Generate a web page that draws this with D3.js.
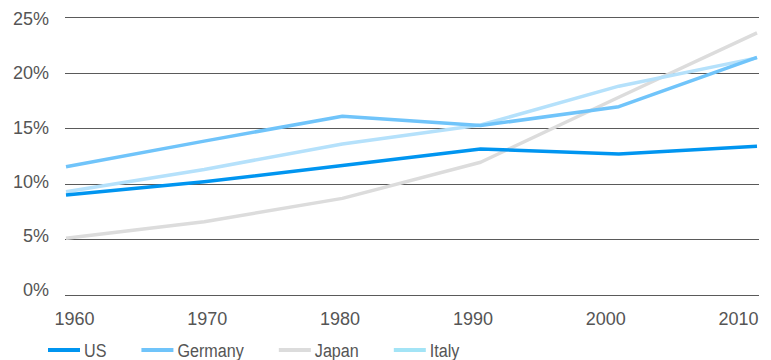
<!DOCTYPE html>
<html>
<head>
<meta charset="utf-8">
<script src="https://cdn.jsdelivr.net/npm/d3@7"></script>
<style>
  html, body { margin: 0; padding: 0; background: #fff; }
  svg { display: block; }
</style>
</head>
<body>
<svg id="chart" width="771" height="360"></svg>
<script>
const years = [1960, 1970, 1980, 1990, 2000, 2010];
const tickLabels = ['1960', '1970', '1980', '1990', '2000', '2010'];
const yTicks = [0, 5, 10, 15, 20, 25];

const seriesNames = ['US', 'Germany', 'Japan', 'Italy'];
const us = [9.0, 10.2, 11.65, 13.15, 12.7, 13.4];
const germany = [11.55, 13.85, 16.1, 15.25, 16.95, 21.4];
const japan = [5.1, 6.6, 8.7, 11.95, 17.8, 23.6];
const italy = [9.3, 11.3, 13.6, 15.3, 18.8, 21.35];

const COLORS = {
  US: '#0095f0',
  Germany: '#70c4fa',
  Japan: '#dcdcdc',
  Italy: '#b5e1fb',
};
const LEGEND_COLORS = { ...COLORS, Italy: '#a3e4f6' };
const FONT = '"Liberation Sans", Arial, sans-serif';

const svg = d3.select('#chart');

const x = d3.scaleLinear().domain([1960, 2010]).range([66, 757]);
const xLabel = d3.scalePoint().domain(tickLabels).range([74, 738]);
const y = d3.scaleLinear().domain([0, 25]).range([295, 17.3]);
// the labels sit on a slightly tighter spacing than the gridlines
const yLabel = d3.scaleLinear().domain([0, 25]).range([290, 19]);

// gridlines
svg.append('g')
  .attr('transform', 'translate(65,0)')
  .call(d3.axisLeft(y).tickValues(yTicks).tickSize(-694).tickFormat(''))
  .call(axis => axis.select('.domain').remove())
  .call(axis => axis.selectAll('line').attr('stroke', '#5a5a5a').attr('stroke-width', 1).attr('shape-rendering', 'crispEdges'));

// y labels
svg.append('g')
  .attr('transform', 'translate(49,0)')
  .call(d3.axisLeft(yLabel).tickValues(yTicks).tickSize(0).tickPadding(0).tickFormat(d => `${d}%`))
  .call(axis => axis.select('.domain').remove())
  .call(axis => axis.selectAll('text')
    .attr('fill', '#555')
    .attr('font-family', FONT)
    .attr('font-size', 18));

// x labels
svg.append('g')
  .attr('transform', 'translate(0,295)')
  .call(d3.axisBottom(xLabel).tickSize(0).tickPadding(17))
  .call(axis => axis.select('.domain').remove())
  .call(axis => axis.selectAll('text')
    .attr('fill', '#555')
    .attr('font-family', FONT)
    .attr('font-size', 18));

const data = [
  { name: 'Japan', values: japan },
  { name: 'Italy', values: italy },
  { name: 'Germany', values: germany },
  { name: 'US', values: us },
];

const line = d3.line()
  .x((d, i) => x(years[i]))
  .y(d => y(d));

svg.append('g').selectAll('path').data(data).join('path')
  .attr('fill', 'none')
  .attr('stroke', d => COLORS[d.name])
  .attr('stroke-width', 3.5)
  .attr('stroke-linejoin', 'round')
  .attr('d', d => line(d.values));

// legend (condensed look: squeeze the text horizontally)
const SQUEEZE = 0.85;
const legend = svg.append('g').attr('transform', 'translate(48,350)');
let cursor = 0;
seriesNames.forEach(name => {
  const item = legend.append('g').attr('transform', `translate(${cursor},0)`);
  item.append('line')
    .attr('x1', 0).attr('x2', 32)
    .attr('stroke', LEGEND_COLORS[name])
    .attr('stroke-width', 4);
  const t = item.append('text')
    .attr('transform', `translate(36,7) scale(${SQUEEZE},1)`)
    .attr('fill', '#555')
    .attr('font-family', FONT)
    .attr('font-size', 19)
    .text(name);
  cursor += 36 + t.node().getComputedTextLength() * SQUEEZE + 35;
});
</script>
</body>
</html>
